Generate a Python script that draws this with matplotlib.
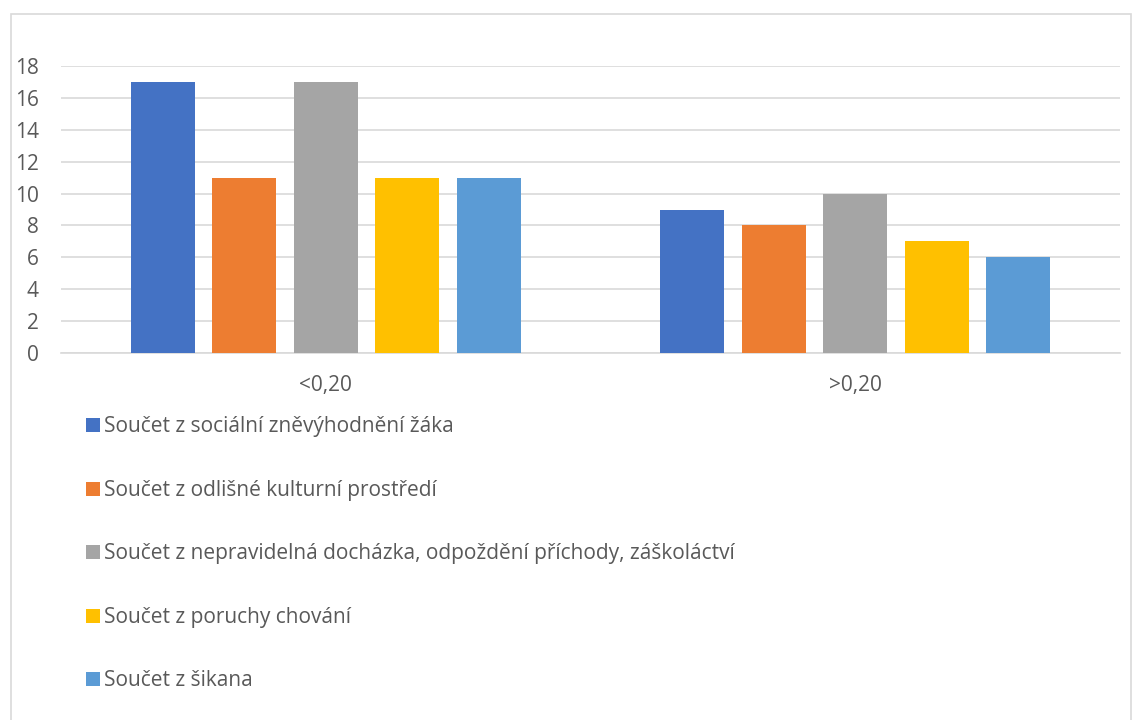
import matplotlib
matplotlib.use("Agg")
import matplotlib.pyplot as plt
from matplotlib.patches import Rectangle
import numpy as np

categories = ["<0,20", ">0,20"]
series_names = [
    "Součet z sociální zněvýhodnění žáka",
    "Součet z odlišné kulturní prostředí",
    "Součet z nepravidelná docházka, odpoždění příchody, záškoláctví",
    "Součet z poruchy chování",
    "Součet z šikana",
]
series_values = [
    [17, 9],
    [11, 8],
    [17, 10],
    [11, 7],
    [11, 6],
]
colors = ["#4472C4", "#ED7D31", "#A5A5A5", "#FFC000", "#5B9BD5"]
yticks = [0, 2, 4, 6, 8, 10, 12, 14, 16, 18]

plt.rcParams['font.family'] = ['Open Sans', 'DejaVu Sans']
W, H = 1132, 720
fig = plt.figure(figsize=(W / 100, H / 100), dpi=100)
fig.patch.set_facecolor("white")

# outer chart border
fig.patches.append(Rectangle((10.5 / W, -0.01), (1130.5 - 10.5) / W, 1 - 13.5 / H + 0.01,
                             transform=fig.transFigure, fill=False,
                             edgecolor="#D9D9D9", linewidth=1.2))

left, right = 61 / W, 1120 / W
bottom, top = 1 - 353 / H, 1 - 66 / H
ax = fig.add_axes([left, bottom, right - left, top - bottom])

x = np.arange(len(categories))
width = 0.121
step = 0.154
handles = []
for i, (name, vals, c) in enumerate(zip(series_names, series_values, colors)):
    b = ax.bar(x + (i - 2) * step, vals, width=width, color=c, label=name, zorder=3)
    handles.append(b)

ax.set_xlim(-0.5, len(categories) - 0.5)
ax.set_ylim(0, 18)
ax.set_yticks(yticks)
ax.set_yticklabels([str(v) for v in yticks])
ax.set_xticks(x)
ax.set_xticklabels(categories)
ax.grid(axis="y", color="#D9D9D9", linewidth=1.2, zorder=0)
for s in ["top", "right", "left"]:
    ax.spines[s].set_visible(False)
ax.spines["bottom"].set_color("#D9D9D9")
ax.spines["bottom"].set_linewidth(1.2)
ax.tick_params(axis="both", length=0, colors="#595959", labelsize=15)
ax.tick_params(axis="y", pad=16)
ax.tick_params(axis="x", pad=15.5)

leg = fig.legend(handles=handles, labels=series_names, loc="upper left",
                 bbox_to_anchor=(76 / W, 1 - 406 / H), frameon=False,
                 fontsize=15, handlelength=0.65, handleheight=0.65,
                 handletextpad=0.2, labelspacing=2.04, borderpad=0, labelcolor="#595959")

fig.savefig("out.png", dpi=100)
